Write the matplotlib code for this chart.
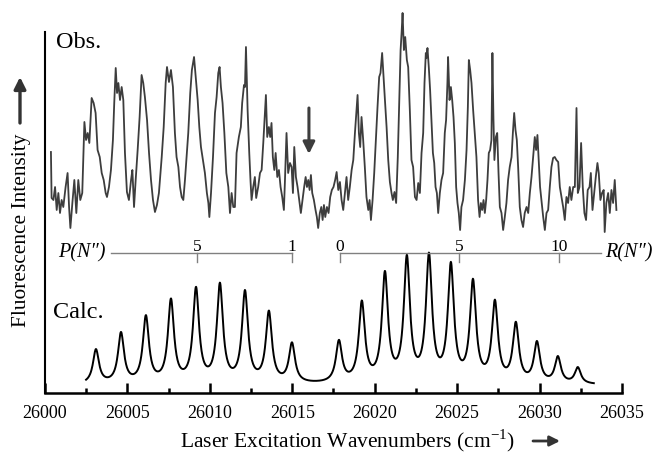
import numpy as np
import matplotlib
matplotlib.use("Agg")
import matplotlib.pyplot as plt

plt.rcParams['font.family'] = ['Liberation Serif', 'DejaVu Serif']
plt.rcParams['mathtext.fontset'] = 'custom'
plt.rcParams['mathtext.rm'] = 'Liberation Serif'

# Observed spectrum (wavenumber in cm-1, intensity in arb. units)
obs_wn = [26000.36, 26000.40, 26000.51, 26000.61, 26000.71, 26000.81, 26000.91, 26001.01, 26001.11,
          26001.25, 26001.37, 26001.46, 26001.54, 26001.66, 26001.78, 26001.90, 26002.02, 26002.14,
          26002.26, 26002.39, 26002.49, 26002.59, 26002.69, 26002.83, 26002.95, 26003.07, 26003.19,
          26003.32, 26003.44, 26003.56, 26003.68, 26003.76, 26003.88, 26004.00, 26004.12, 26004.20,
          26004.29, 26004.37, 26004.45, 26004.55, 26004.65, 26004.75, 26004.85, 26004.97, 26005.09,
          26005.22, 26005.30, 26005.40, 26005.50, 26005.62, 26005.74, 26005.86, 26005.96, 26006.06,
          26006.19, 26006.31, 26006.43, 26006.55, 26006.67, 26006.79, 26006.91, 26007.08, 26007.20,
          26007.32, 26007.40, 26007.52, 26007.64, 26007.76, 26007.88, 26007.98, 26008.09, 26008.19,
          26008.29, 26008.39, 26008.49, 26008.59, 26008.69, 26008.81, 26008.91, 26009.04, 26009.14,
          26009.26, 26009.36, 26009.46, 26009.58, 26009.70, 26009.82, 26009.91, 26009.97, 26010.07,
          26010.19, 26010.31, 26010.41, 26010.51, 26010.59, 26010.67, 26010.77, 26010.88, 26011.00,
          26011.12, 26011.22, 26011.32, 26011.42, 26011.52, 26011.62, 26011.76, 26011.88, 26011.96,
          26012.07, 26012.13, 26012.19, 26012.29, 26012.39, 26012.47, 26012.53, 26012.63, 26012.73,
          26012.81, 26012.93, 26013.04, 26013.14, 26013.24, 26013.34, 26013.40, 26013.48, 26013.58,
          26013.66, 26013.74, 26013.82, 26013.91, 26013.99, 26014.09, 26014.19, 26014.29, 26014.39,
          26014.49, 26014.55, 26014.65, 26014.75, 26014.86, 26014.96, 26015.04, 26015.12, 26015.22,
          26015.32, 26015.42, 26015.52, 26015.62, 26015.72, 26015.81, 26015.89, 26015.97, 26016.05,
          26016.13, 26016.21, 26016.31, 26016.41, 26016.49, 26016.57, 26016.67, 26016.76, 26016.84,
          26016.92, 26017.00, 26017.10, 26017.20, 26017.30, 26017.40, 26017.50, 26017.60, 26017.69,
          26017.79, 26017.89, 26017.99, 26018.09, 26018.19, 26018.29, 26018.39, 26018.49, 26018.60,
          26018.70, 26018.80, 26018.90, 26018.96, 26019.04, 26019.12, 26019.20, 26019.30, 26019.40,
          26019.50, 26019.61, 26019.69, 26019.77, 26019.87, 26019.97, 26020.07, 26020.17, 26020.27,
          26020.35, 26020.45, 26020.54, 26020.62, 26020.72, 26020.82, 26020.92, 26021.02, 26021.10,
          26021.20, 26021.30, 26021.40, 26021.49, 26021.57, 26021.63, 26021.69, 26021.77, 26021.85,
          26021.95, 26022.03, 26022.13, 26022.23, 26022.33, 26022.44, 26022.54, 26022.64, 26022.74,
          26022.84, 26022.94, 26023.02, 26023.10, 26023.14, 26023.20, 26023.28, 26023.36, 26023.44,
          26023.53, 26023.61, 26023.69, 26023.77, 26023.85, 26023.95, 26024.05, 26024.15, 26024.25,
          26024.33, 26024.41, 26024.45, 26024.54, 26024.62, 26024.70, 26024.78, 26024.86, 26024.94,
          26025.02, 26025.10, 26025.18, 26025.26, 26025.36, 26025.47, 26025.57, 26025.65, 26025.71,
          26025.79, 26025.87, 26025.97, 26026.07, 26026.17, 26026.27, 26026.36, 26026.44, 26026.52,
          26026.60, 26026.68, 26026.76, 26026.84, 26026.92, 26027.00, 26027.08, 26027.14, 26027.20,
          26027.26, 26027.35, 26027.43, 26027.51, 26027.59, 26027.69, 26027.79, 26027.89, 26027.99,
          26028.09, 26028.19, 26028.30, 26028.38, 26028.46, 26028.54, 26028.62, 26028.70, 26028.80,
          26028.90, 26029.00, 26029.10, 26029.21, 26029.31, 26029.41, 26029.51, 26029.61, 26029.71,
          26029.79, 26029.87, 26029.95, 26030.03, 26030.11, 26030.22, 26030.32, 26030.42, 26030.52,
          26030.62, 26030.72, 26030.82, 26030.92, 26031.02, 26031.13, 26031.23, 26031.33, 26031.43,
          26031.53, 26031.63, 26031.73, 26031.83, 26031.93, 26032.04, 26032.14, 26032.24, 26032.32,
          26032.42, 26032.52, 26032.62, 26032.72, 26032.82, 26032.92, 26033.03, 26033.11, 26033.21,
          26033.31, 26033.41, 26033.51, 26033.59, 26033.69, 26033.79, 26033.89, 26033.95, 26034.05,
          26034.16, 26034.26, 26034.36, 26034.46, 26034.56, 26034.66]
obs_int = [241, 195, 193, 206, 183, 200, 180, 193, 186,
           206, 220, 186, 165, 190, 213, 180, 213, 193,
           200, 271, 253, 260, 250, 295, 290, 280, 243,
           236, 220, 213, 200, 196, 206, 223, 253, 290,
           325, 300, 310, 293, 306, 293, 240, 201, 193,
           213, 223, 186, 213, 243, 276, 318, 310, 296,
           273, 240, 213, 193, 181, 188, 200, 236, 266,
           310, 326, 311, 323, 306, 260, 236, 226, 206,
           196, 193, 213, 236, 260, 300, 323, 336, 316,
           293, 266, 246, 233, 220, 200, 190, 176, 200,
           236, 280, 296, 320, 326, 306, 290, 260, 220,
           206, 180, 200, 186, 186, 240, 256, 266, 290,
           308, 306, 346, 283, 240, 211, 193, 206, 216,
           195, 206, 220, 223, 250, 280, 298, 256, 266,
           256, 270, 236, 223, 240, 216, 223, 206, 196,
           183, 210, 260, 220, 230, 226, 200, 246, 216,
           206, 193, 180, 193, 206, 216, 206, 213, 203,
           218, 200, 193, 183, 176, 165, 180, 186, 173,
           188, 176, 186, 180, 196, 203, 206, 213, 221,
           203, 211, 193, 183, 200, 216, 193, 206, 223,
           233, 260, 283, 298, 260, 246, 276, 253, 226,
           196, 183, 193, 173, 193, 220, 253, 286, 316,
           320, 340, 316, 293, 266, 233, 211, 200, 193,
           201, 190, 236, 293, 343, 360, 380, 343, 356,
           333, 326, 283, 233, 226, 196, 193, 210, 200,
           240, 260, 310, 340, 335, 345, 326, 303, 273,
           240, 230, 206, 200, 180, 200, 213, 220, 260,
           273, 310, 336, 293, 306, 293, 276, 250, 206,
           190, 180, 163, 186, 193, 213, 243, 286, 333,
           323, 310, 283, 260, 236, 193, 176, 190, 183,
           193, 180, 193, 213, 240, 243, 253, 340, 276,
           233, 256, 260, 220, 186, 180, 163, 176, 190,
           213, 226, 236, 260, 280, 263, 253, 226, 186,
           173, 166, 180, 186, 180, 200, 216, 236, 256,
           243, 258, 233, 206, 193, 176, 163, 180, 183,
           206, 226, 235, 236, 233, 231, 206, 196, 186,
           173, 196, 190, 206, 193, 206, 206, 285, 200,
           206, 250, 206, 180, 173, 203, 206, 220, 183,
           200, 216, 230, 220, 193, 200, 203, 161, 190,
           200, 180, 203, 190, 213, 183]

# Calculated spectrum: line positions (cm-1) and relative strengths
calc_pos = [26003.09, 26004.61, 26006.12, 26007.64, 26009.16, 26010.61, 26012.13, 26013.58, 26014.98,
            26017.83, 26019.22, 26020.62, 26021.95, 26023.29, 26024.62, 26025.96, 26027.29, 26028.56,
            26029.84, 26031.11, 26032.32]
calc_amp = [34, 50, 66, 82, 93, 97, 90, 70, 39,
            41, 79, 107, 122, 124, 115, 99, 79, 58, 40, 26, 16]
calc_start, calc_end = 26002.49, 26033.29
calc_base = 8
calc_hwhm = 0.22

# Rotational assignment combs
p_line = [26004.00, 26014.98]
p_ticks = [26009.22, 26014.98]
p_labels = ['5', '1']
r_line = [26017.89, 26033.72]
r_ticks = [26017.89, 26025.11, 26031.17]
r_labels = ['0', '5', '10']
comb_y = 140
comb_tick = 9

arrow_wn = 26016.01
arrow_y = [285, 239]

x_major = np.arange(26000, 26036, 5)
x_minor = np.arange(26002.5, 26035, 5)

# Calculated trace: sum of Lorentzian lines over the drawn range
xs = np.linspace(calc_start, calc_end, 1500)
calc = np.full_like(xs, calc_base, dtype=float)
for pos, amp in zip(calc_pos, calc_amp):
    calc += amp * calc_hwhm ** 2 / ((xs - pos) ** 2 + calc_hwhm ** 2)

fig = plt.figure(figsize=(6.55, 4.53), dpi=100)
ax = fig.add_axes([45 / 655, 60 / 453, 577 / 655, 383 / 453])

ax.plot(obs_wn, obs_int, color='#3d3d3d', lw=1.3)
ax.plot(xs, calc, color='black', lw=1.4)

# P and R branch combs
ax.plot(p_line, [comb_y, comb_y], color='#808080', lw=1.0)
ax.plot(r_line, [comb_y, comb_y], color='#808080', lw=1.0)
for t, lab in zip(p_ticks + r_ticks, p_labels + r_labels):
    ax.plot([t, t], [comb_y, comb_y - comb_tick], color='#808080', lw=1.0)
    ax.text(t, comb_y + 2, lab, ha='center', va='baseline', fontsize=12.5)
ax.text(26003.7, comb_y, 'P(N″)', ha='right', va='center', fontsize=14.5, style='italic')
ax.text(26033.95, comb_y, 'R(N″)', ha='left', va='center', fontsize=14.5, style='italic')

ax.text(26000.67, 345, 'Obs.', fontsize=17.5, va='baseline')
ax.text(26000.49, 75, 'Calc.', fontsize=17.5, va='baseline')

ax.annotate('', xy=(arrow_wn, arrow_y[1]), xytext=(arrow_wn, arrow_y[0]),
            arrowprops=dict(arrowstyle='-|>,head_width=0.35,head_length=0.7', lw=2.2,
                            color='#3d3d3d', shrinkA=0, shrinkB=0))

ax.set_xlim(26000, 26035)
ax.set_ylim(0, 383)
ax.spines['top'].set_visible(False)
ax.spines['right'].set_visible(False)
ax.spines['left'].set_bounds(0, 361)
ax.spines['left'].set_linewidth(1.5)
ax.spines['bottom'].set_linewidth(1.8)
ax.set_yticks([])
ax.set_xticks(x_major)
ax.set_xticks(x_minor, minor=True)
ax.tick_params(axis='x', which='major', direction='in', length=7.5, width=1.8, pad=9, labelsize=13)
ax.tick_params(axis='x', which='minor', direction='in', length=3.5, width=1.8)
ax.ticklabel_format(useOffset=False, axis='x')

# axis titles with their arrows
fig.text(347 / 655, 1 - 441 / 453, 'Laser Excitation Wavenumbers (cm$^{\\mathregular{-1}}$)',
         ha='center', va='center', fontsize=15.5)
ax.annotate('', xy=(560 / 655, 1 - 441 / 453), xytext=(533 / 655, 1 - 441 / 453),
            xycoords='figure fraction', textcoords='figure fraction',
            arrowprops=dict(arrowstyle='-|>,head_width=0.3,head_length=0.6', lw=2,
                            color='#333333', shrinkA=0, shrinkB=0))
fig.text(22 / 655, 1 - 230 / 453, 'Fluorescence Intensity', rotation=90,
         ha='center', va='center', fontsize=15.4)
ax.annotate('', xy=(20 / 655, 1 - 77 / 453), xytext=(20 / 655, 1 - 123 / 453),
            xycoords='figure fraction', textcoords='figure fraction',
            arrowprops=dict(arrowstyle='-|>,head_width=0.35,head_length=0.7', lw=2.4,
                            color='#333333', shrinkA=0, shrinkB=0))

plt.savefig('out.png', dpi=100)
